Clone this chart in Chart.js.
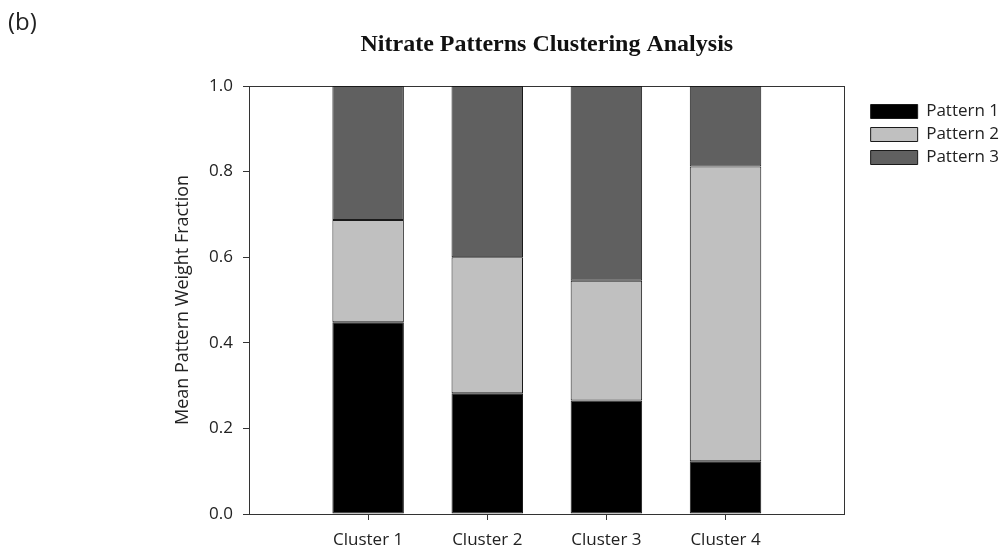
<!DOCTYPE html>
<html>
<head>
<meta charset="utf-8">
<script src="https://cdn.jsdelivr.net/npm/chart.js@4.4.1/dist/chart.umd.min.js"></script>
<style>
  html, body { margin: 0; padding: 0; background: #fff; }
  #contenedor { width: 1006px; height: 556px; }
</style>
</head>
<body>
<div id="contenedor"><canvas id="grafico"></canvas></div>
<script>
// Datos
const clusterLabels = ['Cluster 1', 'Cluster 2', 'Cluster 3', 'Cluster 4'];
const clusterPos = [1, 2, 3, 4];
const pattern1 = [0.448, 0.282, 0.265, 0.123];
const pattern2 = [0.239, 0.318, 0.280, 0.689];
const pattern3 = [0.313, 0.400, 0.455, 0.188];

const colorTexto = '#222';
const colorEje = '#333';

Chart.defaults.font.family = "'Open Sans', sans-serif";
Chart.defaults.font.size = 17;
Chart.defaults.color = colorTexto;

// Convertir cada serie en puntos {x, y}
function aPuntos(valores) {
    return valores.map((v, i) => ({ x: clusterPos[i], y: v }));
}

function serie(label, valores, color) {
    return {
        label: label,
        data: aPuntos(valores),
        backgroundColor: color,
        borderColor: '#1a1a1a',
        borderWidth: 1,
        borderSkipped: false,
        barPercentage: 0.6,
        categoryPercentage: 1.0,
    };
}

const ctx = document.getElementById('grafico').getContext('2d');

new Chart(ctx, {
    type: 'bar',
    data: {
        datasets: [
            serie('Pattern 1', pattern1, '#000000'),
            serie('Pattern 2', pattern2, '#c0c0c0'),
            serie('Pattern 3', pattern3, '#606060'),
        ],
    },
    options: {
        responsive: true,
        maintainAspectRatio: false,
        animation: false,
        layout: { padding: { left: 8, right: -3, top: 0, bottom: 0 } },
        plugins: {
            tooltip: { enabled: false },
            title: {
                display: true,
                text: '(b)',
                align: 'start',
                fullSize: true,
                color: colorTexto,
                font: { size: 24, weight: 'normal', lineHeight: 1 },
                padding: { top: 11, bottom: 0 },
            },
            subtitle: {
                display: true,
                text: 'Nitrate Patterns Clustering Analysis',
                fullSize: false,
                color: '#111',
                font: { family: "'Liberation Serif', serif", size: 24, weight: 'bold', lineHeight: 1 },
                padding: { top: -2, bottom: 29 },
            },
            legend: {
                position: 'right',
                align: 'start',
                fullSize: false,
                title: { display: true, text: '', font: { size: 11, lineHeight: 1 }, padding: 0 },
                labels: {
                    boxWidth: 47,
                    boxHeight: 14,
                    padding: 6,
                    color: colorTexto,
                    font: { size: 17 },
                },
            },
        },
        scales: {
            x: {
                type: 'linear',
                min: 0,
                max: 5,
                offset: false,
                stacked: true,
                afterBuildTicks: (escala) => {
                    escala.ticks = clusterPos.map(v => ({ value: v }));
                },
                afterFit: (escala) => { escala.height = 42; },
                ticks: {
                    padding: 10,
                    maxRotation: 0,
                    autoSkip: false,
                    callback: (valor) => clusterLabels[clusterPos.indexOf(valor)],
                },
                grid: { offset: false, drawOnChartArea: false, tickLength: 6, color: colorEje },
                border: { color: colorEje, width: 1 },
            },
            x2: {
                type: 'linear',
                position: 'top',
                offset: false,
                ticks: { display: false },
                grid: { offset: false, drawOnChartArea: false, drawTicks: false, color: colorEje },
                border: { color: colorEje, width: 1 },
                afterFit: (escala) => { escala.height = 0; },
            },
            y: {
                stacked: true,
                min: 0,
                max: 1,
                ticks: {
                    stepSize: 0.2,
                    padding: 10,
                    callback: (valor) => valor.toFixed(1),
                },
                afterFit: (escala) => { escala.width = 241; },
                title: {
                    display: true,
                    text: 'Mean Pattern Weight Fraction',
                    color: colorTexto,
                    font: { size: 18 },
                    padding: { top: 164, bottom: 0 },
                },
                grid: { drawOnChartArea: false, tickLength: 6, color: colorEje },
                border: { color: colorEje, width: 1 },
            },
            y2: {
                type: 'linear',
                position: 'right',
                ticks: { display: false },
                grid: { drawOnChartArea: false, drawTicks: false, color: colorEje },
                border: { color: colorEje, width: 1 },
                afterFit: (escala) => { escala.width = 20; },
            },
        },
    },
});
</script>
</body>
</html>
